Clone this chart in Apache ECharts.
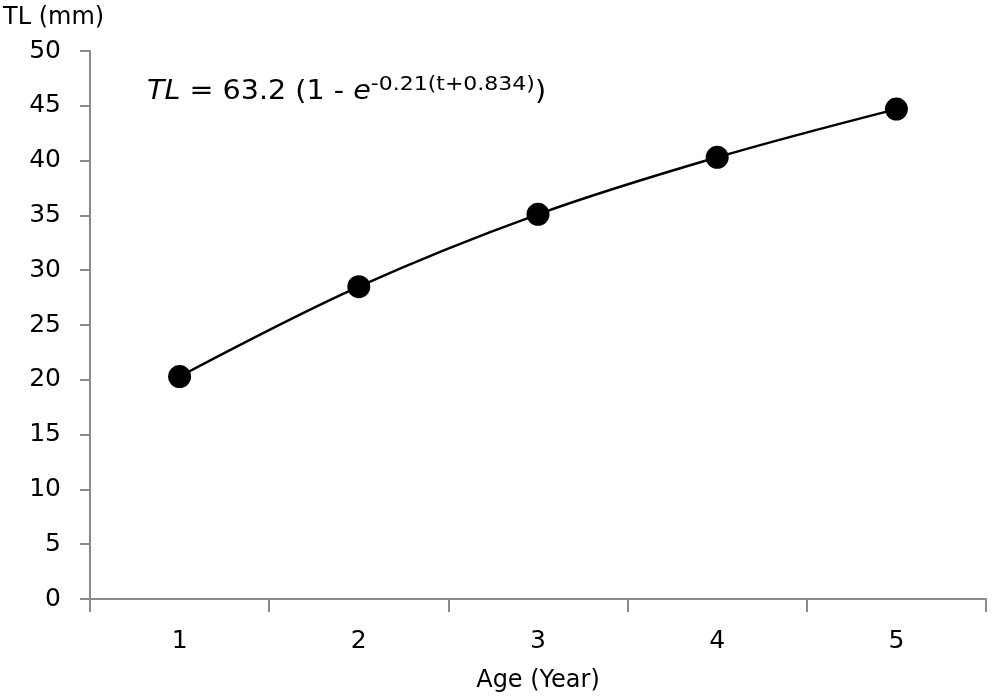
<!DOCTYPE html>
<html><head><meta charset="utf-8">
<script src="https://cdn.jsdelivr.net/npm/echarts@6/dist/echarts.min.js"></script>
<style>html,body{margin:0;padding:0;background:#fff}#c{width:993px;height:697px}</style>
</head><body><div id="c"></div>
<script>
const ages = ['1', '2', '3', '4', '5'];
const tlValues = [20.3, 28.5, 35.1, 40.3, 44.7];
const yTicks = [0, 50, 5];
const FONT = '"DejaVu Sans", "Open Sans", sans-serif';
const axisColor = '#8a8a8a';
const txt = '#000';
const chart = echarts.init(document.getElementById('c'));
chart.setOption({
  animation: false,
  backgroundColor: '#fff',
  grid: { left: 90, right: 7, top: 51, bottom: 98, outerBoundsMode: 'none', containLabel: false },
  xAxis: {
    type: 'category', data: ages, boundaryGap: true,
    name: 'Age (Year)', nameLocation: 'middle', nameGap: 70,
    nameTextStyle: { fontFamily: FONT, fontSize: 24, color: txt },
    axisLine: { lineStyle: { color: axisColor, width: 2 } },
    axisTick: { show: true, alignWithLabel: false, length: 13, inside: false, lineStyle: { color: axisColor, width: 2 } },
    axisLabel: { fontFamily: FONT, fontSize: 25, color: txt, margin: 30 },
    splitLine: { show: false }
  },
  yAxis: {
    type: 'value', min: yTicks[0], max: yTicks[1], interval: yTicks[2],
    name: 'TL (mm)', nameLocation: 'end', nameGap: 21,
    nameTextStyle: { fontFamily: FONT, fontSize: 24, color: txt, align: 'left', padding: [0, 0, 0, -87] },
    axisLine: { show: true, lineStyle: { color: axisColor, width: 2 } },
    axisTick: { show: true, length: 10, lineStyle: { color: axisColor, width: 2 } },
    axisLabel: { fontFamily: FONT, fontSize: 25, color: txt, margin: 29 },
    splitLine: { show: false }
  },
  series: [{
    type: 'line', data: tlValues, smooth: 0.35,
    symbol: 'circle', symbolSize: 23,
    itemStyle: { color: '#000' },
    lineStyle: { color: '#000', width: 2.5 }
  }],
  graphic: [{
    type: 'text', x: 147, y: 75, scaleX: 1.1,
    style: {
      text: '{i|TL}{n| = 63.2 (1 - }{i|e}{s|-0.21(t+0.834)}{n|)}',
      fontFamily: FONT,
      rich: {
        i: { fontFamily: FONT, fontSize: 26, fontStyle: 'italic', fill: txt, color: txt },
        n: { fontFamily: FONT, fontSize: 26, fill: txt, color: txt },
        s: { fontFamily: FONT, fontSize: 20, fill: txt, color: txt, padding: [0, 0, 14, 0] }
      }
    }
  }]
});
</script></body></html>
